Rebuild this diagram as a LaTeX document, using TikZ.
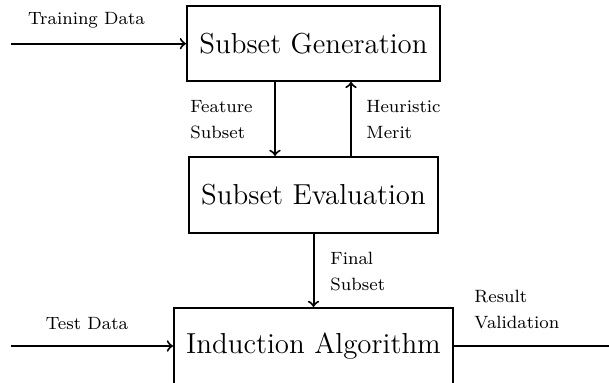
\documentclass[tikz,border=0pt]{standalone}
\usetikzlibrary{calc}
\begin{document}
\begin{tikzpicture}[x=0.45pt,y=-0.45pt,
  blockbox/.style={draw,line width=0.9pt,minimum width=253*0.45pt,minimum height=75*0.45pt,inner sep=0pt,font=\fontsize{13}{15}\selectfont},
  lbl/.style={inner sep=0pt,align=left,font=\fontsize{8}{11.7}\selectfont},
  conn/.style={line width=0.9pt}]
\useasboundingbox (0,0) rectangle (609,383);
\node[blockbox] (SG) at (313.5,43.3) {Subset Generation};
\node[blockbox,minimum width=249*0.45pt,minimum height=76*0.45pt] (SE) at (313.5,195) {Subset Evaluation};
\node[blockbox,minimum width=279*0.45pt,minimum height=76*0.45pt] (IA) at (313.5,346) {Induction Algorithm};
\coordinate (tdin) at (11,43.7);
\coordinate (testin) at (11,346);
\coordinate (resout) at (609,346);
\draw[conn,->] (tdin) -- (tdin -| SG.west);
\draw[conn,->] ($(SG.south)+(-38.5,0)$) -- ($(SE.north)+(-38.5,0)$);
\draw[conn,->] ($(SE.north)+(37.5,0)$) -- ($(SG.south)+(37.5,0)$);
\draw[conn,->] (SE.south) -- (IA.north);
\draw[conn,->] (testin) -- (IA.west);
\draw[conn] (IA.east) -- (resout);
\node[lbl] (ltd) at (86.5,20) {Training Data};
\node[lbl,anchor=west] (lfs) at (190,120) {Feature\\Subset};
\node[lbl,anchor=west] (lhm) at (366,120) {Heuristic\\Merit};
\node[lbl,anchor=west] (lfin) at (330,271.5) {Final\\Subset};
\node[lbl,anchor=west] (lrv) at (474,309.5) {Result\\Validation};
\node[lbl] (ltest) at (87,324) {Test Data};
\end{tikzpicture}
\end{document}
